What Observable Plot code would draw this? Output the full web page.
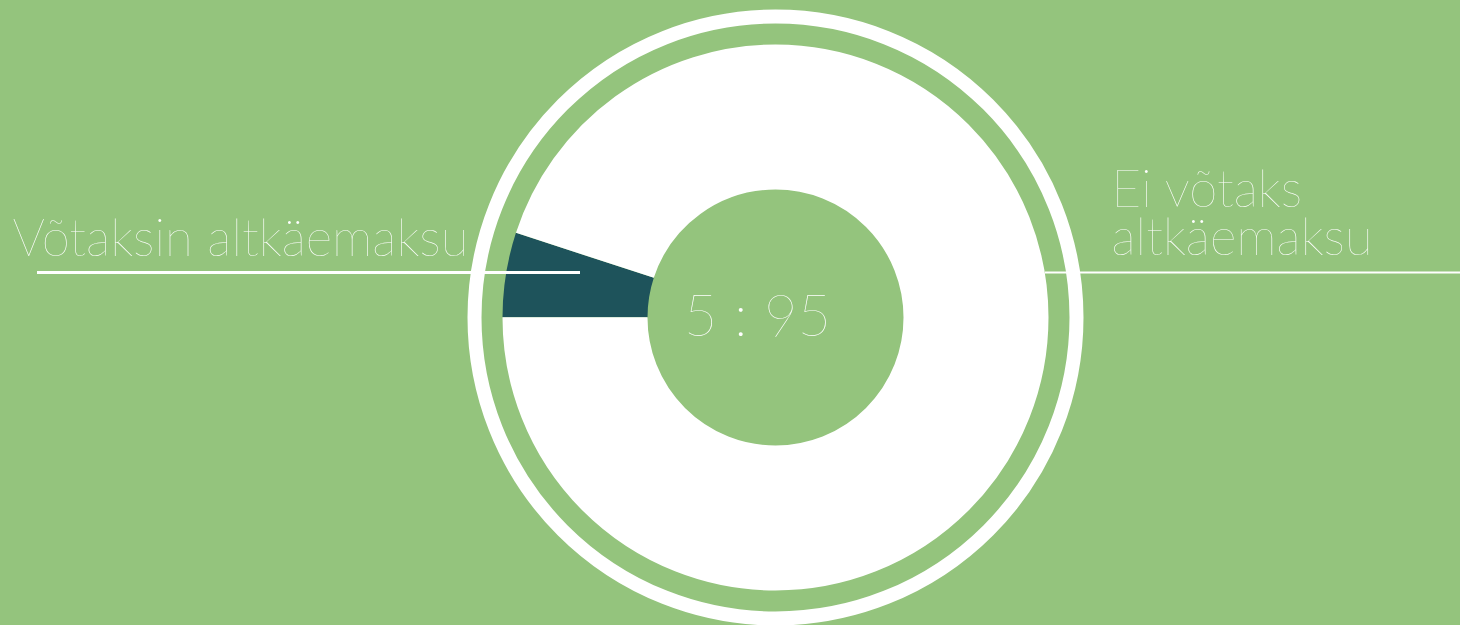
<!DOCTYPE html>
<html>
<head>
<meta charset="utf-8">
<script src="https://cdn.jsdelivr.net/npm/d3@7"></script>
<script src="https://cdn.jsdelivr.net/npm/@observablehq/plot@0.6"></script>
<style>
  html, body { margin: 0; padding: 0; background: #94c47d; overflow: hidden; }
  #chart svg { display: block; }
</style>
</head>
<body>
<div id="chart"></div>
<script>
// ---- data ----
const categories = ["Võtaksin altkäemaksu", "Ei võtaks altkäemaksu"];
const values = [5, 95];
const labelLines = ["Võtaksin altkäemaksu", "Ei võtaks\naltkäemaksu"];
const colors = ["#1e535b", "#ffffff"];

// ---- layout ----
const W = 1460, H = 625;
const CX = 775, CY = 317;
const R_IN = 128, R_OUT = 273;
const RING_R = 301, RING_W = 14;
const BG = "#94c47d";
const FONT = "Lato, 'Open Sans', sans-serif";

const total = d3.sum(values);
const Rmid = (R_IN + R_OUT) / 2;
const C = 2 * Math.PI * Rmid;
let cum = 0;
const slices = values.map((v, i) => {
  const start = cum / total; cum += v;
  const frac = v / total;
  // stroke path starts at 3 o'clock and runs clockwise; slices begin at 9 o'clock
  const a = (0.5 + start) * C;
  return {category: categories[i], value: v, color: colors[i], len: frac * C, a};
});

const center = [{x: CX, y: CY}];

const marks = [
  // outer white ring
  Plot.dot(center, {x: "x", y: "y", r: RING_R, stroke: "white", strokeWidth: RING_W, fill: "none"}),
  // right leader line (behind donut)
  Plot.ruleY([272], {x1: 1045, x2: W, stroke: "white", strokeWidth: 2}),
  // slices
  ...slices.map(s => Plot.dot(center, {
    x: "x", y: "y", r: Rmid, fill: "none", stroke: s.color, strokeWidth: R_OUT - R_IN,
    strokeDasharray: `${s.len} ${C - s.len}`, strokeDashoffset: -s.a
  })),
  // left leader line (on top)
  Plot.ruleY([272], {x1: 37, x2: 580, stroke: "white", strokeWidth: 3}),
  // labels
  Plot.text([labelLines[0]], {x: 12, y: 255, text: d => d, textAnchor: "start", lineAnchor: "bottom",
    fill: "white", fontSize: 51, fontWeight: 200, fontFamily: FONT}),
  Plot.text([labelLines[1]], {x: 1111, y: 254, text: d => d, textAnchor: "start", lineAnchor: "bottom",
    lineHeight: 0.94, fill: "white", fontSize: 51, fontWeight: 200, fontFamily: FONT}),
  // centre ratio
  Plot.text([values.join(" : ")], {x: 757, y: 335, text: d => d, textAnchor: "middle", lineAnchor: "bottom",
    fill: "white", fontSize: 58, fontWeight: 200, fontFamily: FONT})
];

const chart = Plot.plot({
  width: W, height: H,
  margin: 0,
  x: {domain: [0, W], range: [0, W], axis: null},
  y: {domain: [0, H], range: [0, H], axis: null},
  style: {background: BG, overflow: "visible"},
  marks
});
document.getElementById("chart").appendChild(chart);
</script>
</body>
</html>
